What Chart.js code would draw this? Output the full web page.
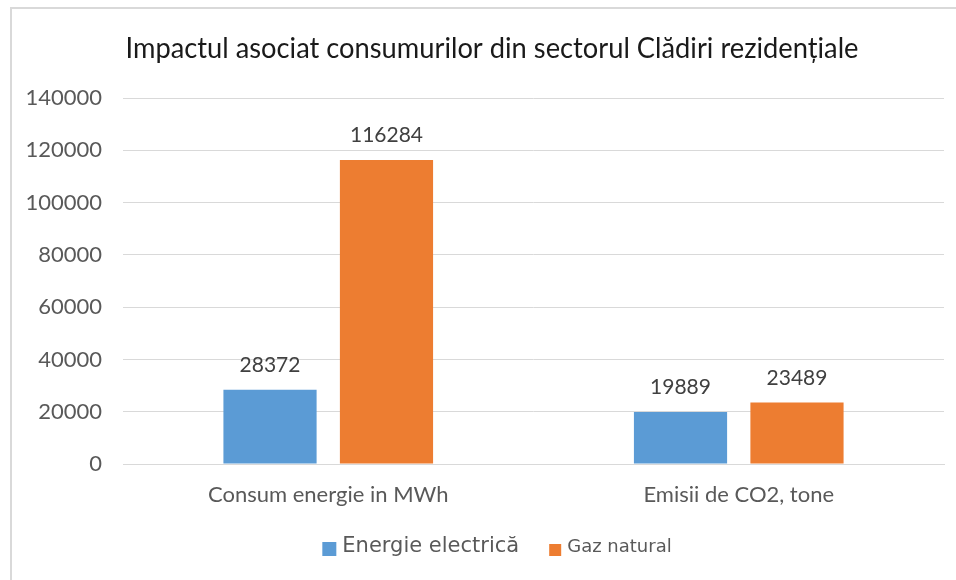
<!DOCTYPE html>
<html>
<head>
<meta charset="utf-8">
<script src="https://cdn.jsdelivr.net/npm/chart.js@4/dist/chart.umd.min.js"></script>
<style>
    html, body { margin: 0; padding: 0; background: #ffffff; }
    #wrap { width: 956px; height: 580px; }
</style>
</head>
<body>
<div id="wrap"><canvas id="chart" width="956" height="580"></canvas></div>
<script>
    // Chart data
    const categories = ['Consum energie in MWh', 'Emisii de CO2, tone'];
    const seriesNames = ['Energie electrică', 'Gaz natural'];
    const electricValues = [28372, 19889];
    const gasValues = [116284, 23489];
    const yTicks = [0, 20000, 40000, 60000, 80000, 100000, 120000, 140000];

    const titleText = 'Impactul asociat consumurilor din sectorul Clădiri rezidențiale';

    const colors = {
        blue: '#5b9bd5',
        orange: '#ed7d31',
        grid: '#d9d9d9',
        text: '#595959',
        label: '#404040',
        title: '#1a1a1a'
    };

    /**
     * Draws frame, title, value labels and legend
     */
    const decorPlugin = {
        id: 'decor',
        beforeDraw: function (chart) {
            const ctx = chart.ctx;
            ctx.save();
            ctx.fillStyle = '#ffffff';
            ctx.fillRect(0, 0, chart.width, chart.height);
            // outer frame (top + left visible)
            ctx.strokeStyle = colors.grid;
            ctx.lineWidth = 2;
            ctx.beginPath();
            ctx.moveTo(11, chart.height);
            ctx.lineTo(11, 8);
            ctx.lineTo(chart.width, 8);
            ctx.stroke();
            ctx.restore();
        },
        afterDraw: function (chart) {
            const ctx = chart.ctx;
            ctx.save();

            // title, squeezed horizontally like the narrow original
            ctx.fillStyle = colors.title;
            ctx.font = '28px Lato';
            ctx.textAlign = 'center';
            ctx.textBaseline = 'alphabetic';
            const tw = ctx.measureText(titleText).width;
            const sx = 733 / tw;
            ctx.save();
            ctx.translate(492, 58);
            ctx.scale(sx, 1);
            ctx.fillText(titleText, 0, 0);
            ctx.restore();

            // value labels above bars
            ctx.fillStyle = colors.label;
            ctx.font = '21px Lato';
            chart.data.datasets.forEach(function (ds, i) {
                const meta = chart.getDatasetMeta(i);
                meta.data.forEach(function (bar, j) {
                    ctx.fillText(String(ds.data[j]), bar.x, bar.y - 18);
                });
            });

            // legend (items use different sizes, as in the original)
            const items = [
                { text: seriesNames[0], color: colors.blue, font: '21px "DejaVu Sans"', box: 14 },
                { text: seriesNames[1], color: colors.orange, font: '18px "DejaVu Sans"', box: 12 }
            ];
            const boxGap = 6, itemGap = 30;
            let total = 0;
            items.forEach(function (it, k) {
                ctx.font = it.font;
                it.w = ctx.measureText(it.text).width;
                total += it.box + boxGap + it.w + (k > 0 ? itemGap : 0);
            });
            let x = 497 - total / 2;
            const baseY = 552;
            ctx.textAlign = 'left';
            items.forEach(function (it, k) {
                if (k > 0) x += itemGap;
                ctx.fillStyle = it.color;
                ctx.fillRect(x, 556 - it.box, it.box, it.box);
                x += it.box + boxGap;
                ctx.font = it.font;
                ctx.fillStyle = colors.text;
                ctx.fillText(it.text, x, baseY);
                x += it.w;
            });

            ctx.restore();
        }
    };

    new Chart(document.getElementById('chart').getContext('2d'), {
        type: 'bar',
        data: {
            labels: categories,
            datasets: [{
                label: seriesNames[0],
                data: electricValues,
                backgroundColor: colors.blue,
                categoryPercentage: 0.5675,
                barPercentage: 0.8
            }, {
                label: seriesNames[1],
                data: gasValues,
                backgroundColor: colors.orange,
                categoryPercentage: 0.5675,
                barPercentage: 0.8
            }]
        },
        options: {
            responsive: false,
            animation: false,
            layout: {
                padding: { top: 98, right: 12, bottom: 0, left: 0 }
            },
            plugins: {
                legend: { display: false },
                title: { display: false },
                tooltip: { enabled: false }
            },
            scales: {
                y: {
                    min: 0,
                    max: 140000,
                    afterBuildTicks: function (scale) {
                        scale.ticks = yTicks.map(function (v) { return { value: v }; });
                    },
                    afterFit: function (scale) {
                        scale.width = 123;
                    },
                    grid: {
                        color: colors.grid,
                        lineWidth: 1,
                        drawTicks: false
                    },
                    border: { display: false },
                    ticks: {
                        color: colors.text,
                        padding: 21,
                        font: { family: 'Lato', size: 22 },
                        callback: function (value) {
                            return String(value);
                        }
                    }
                },
                x: {
                    afterFit: function (scale) {
                        scale.height = 116;
                    },
                    grid: { display: false, drawTicks: false },
                    border: { display: true, color: colors.grid, width: 1 },
                    ticks: {
                        color: colors.text,
                        padding: 18,
                        font: { family: 'Lato', size: 22 }
                    }
                }
            }
        },
        plugins: [decorPlugin]
    });
</script>
</body>
</html>
